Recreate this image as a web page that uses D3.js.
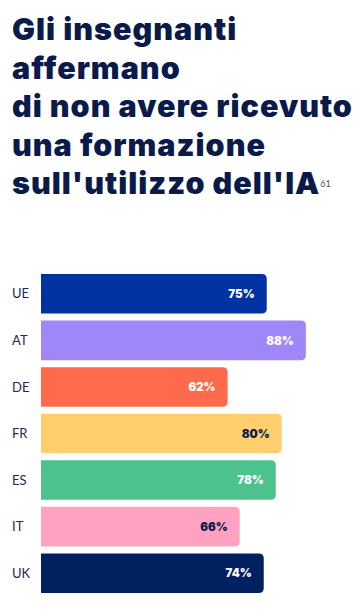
<!DOCTYPE html>
<meta charset="utf-8">
<head>
    <title></title>
    <script src="https://cdn.jsdelivr.net/npm/d3@7"></script>
</head>
<style>
    body{ margin:0; background:#fff; }
    text{ font-family: Lato, sans-serif; }
</style>
<svg width="361" height="616"></svg>
<script>
    var countries = ['UE','AT','DE','FR','ES','IT','UK'],
        values = [75,88,62,80,78,66,74],
        colors = ['#0033a1','#a087f9','#ff6a4d','#ffcf6e','#4cc38c','#ffa2c2','#002060'],
        labelColors = ['#fff','#fff','#fff','#0a1a4a','#fff','#0a1a4a','#fff'],
        titleLines = ['Gli insegnanti','affermano','di non avere ricevuto','una formazione',"sull'utilizzo dell'IA"];

    var svg = d3.select('svg'),
        navy = '#0a1a4a',
        r = 5;

    // title
    var title = svg.append('text')
        .attr('x', 12)
        .style('font-family', 'Inter, sans-serif')
        .style('font-size', '30.5px')
        .style('font-weight', 900)
        .style('letter-spacing', '1px')
        .style('fill', navy);
    titleLines.forEach(function(t,i){
        title.append('tspan').attr('x', 12).attr('y', 40 + i*38.5).text(t);
    });
    var bb = title.selectAll('tspan').nodes()[4].getBBox();
    svg.append('text')
        .attr('x', bb.x + bb.width)
        .attr('y', 187)
        .style('font-size', '9px')
        .style('fill', '#555')
        .text('61');

    // bars
    var x = d3.scaleLinear().domain([0,100]).range([41, 342]),
        y = d3.scaleBand().domain(countries).range([274, 593]).paddingInner(0.15).paddingOuter(0);

    var row = svg.append('g').selectAll('g').data(countries).enter().append('g');

    row.append('path')
        .attr('d', function(d,i){
            var x0 = x(0), x1 = x(values[i]), y0 = y(d), h = y.bandwidth();
            return 'M'+x0+','+y0+'H'+(x1-r)+'Q'+x1+','+y0+' '+x1+','+(y0+r)
                +'V'+(y0+h-r)+'Q'+x1+','+(y0+h)+' '+(x1-r)+','+(y0+h)+'H'+x0+'Z';
        })
        .style('fill', function(d,i){ return colors[i]; });

    row.append('text')
        .attr('x', 12)
        .attr('y', function(d){ return y(d) + y.bandwidth()/2; })
        .attr('dy', '0.36em')
        .style('font-size', '13px')
        .style('fill', '#1b2a50')
        .text(function(d){ return d; });

    row.append('text')
        .attr('x', function(d,i){ return x(values[i]) - 12; })
        .attr('y', function(d){ return y(d) + y.bandwidth()/2; })
        .attr('dy', '0.36em')
        .attr('text-anchor', 'end')
        .style('font-family', 'Inter, sans-serif')
        .style('font-size', '11.5px')
        .style('font-weight', 900)
        .style('fill', function(d,i){ return labelColors[i]; })
        .text(function(d,i){ return values[i] + '%'; });
</script>
